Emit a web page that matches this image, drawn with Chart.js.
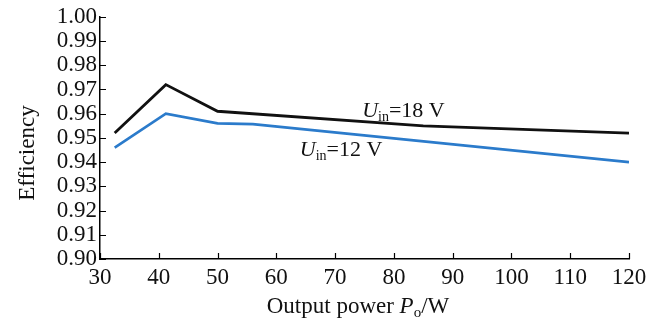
<!DOCTYPE html>
<html>
<head>
<meta charset="utf-8">
<script src="https://cdn.jsdelivr.net/npm/chart.js@4"></script>
<style>
  html, body { margin: 0; padding: 0; background: #fff; }
  #wrap { width: 662px; height: 323px; }
</style>
</head>
<body>
<div id="wrap"><canvas id="chart"></canvas></div>
<script>
// Data
const powerUin18 = [32.5, 41.2, 50, 85, 120];
const effUin18 = [0.952, 0.972, 0.961, 0.955, 0.952];
const powerUin12 = [32.5, 41.2, 50, 56, 120];
const effUin12 = [0.946, 0.960, 0.956, 0.9557, 0.940];

const xTicks = [30, 40, 50, 60, 70, 80, 90, 100, 110, 120];
const yTicks = [0.90, 0.91, 0.92, 0.93, 0.94, 0.95, 0.96, 0.97, 0.98, 0.99, 1.00];

const serif = '"Liberation Serif", "Times New Roman", serif';

// draw a run of text pieces with different fonts / offsets
function drawRich(ctx, x, y, parts, align) {
    let total = 0;
    parts.forEach(p => { ctx.font = p.font; total += ctx.measureText(p.text).width; });
    let cx = align === 'center' ? x - total / 2 : x;
    parts.forEach(p => {
        ctx.font = p.font;
        ctx.fillText(p.text, cx, y + (p.dy || 0));
        cx += ctx.measureText(p.text).width;
    });
}

const extrasPlugin = {
    id: 'extras',
    afterDraw(chart) {
        const ctx = chart.ctx;
        const xs = chart.scales.x, ys = chart.scales.y;
        const area = chart.chartArea;
        ctx.save();
        // inward tick marks
        ctx.strokeStyle = '#000';
        ctx.lineWidth = 1.2;
        ctx.beginPath();
        yTicks.forEach(v => {
            const py = Math.round(ys.getPixelForValue(v)) + 0.5;
            ctx.moveTo(area.left, py);
            ctx.lineTo(area.left + 6, py);
        });
        xTicks.forEach(v => {
            const px = Math.round(xs.getPixelForValue(v)) + 0.5;
            ctx.moveTo(px, area.bottom);
            ctx.lineTo(px, area.bottom - 6);
        });
        ctx.stroke();

        ctx.fillStyle = '#111';
        ctx.textBaseline = 'alphabetic';
        ctx.textAlign = 'left';
        // series labels
        drawRich(ctx, xs.getPixelForValue(74.6), ys.getPixelForValue(0.9585), [
            { text: 'U', font: 'italic 22px ' + serif },
            { text: 'in', font: '14px ' + serif, dy: 4 },
            { text: '=18 V', font: '22px ' + serif }
        ]);
        drawRich(ctx, xs.getPixelForValue(64), ys.getPixelForValue(0.9425), [
            { text: 'U', font: 'italic 22px ' + serif },
            { text: 'in', font: '14px ' + serif, dy: 4 },
            { text: '=12 V', font: '22px ' + serif }
        ]);
        // x axis title
        drawRich(ctx, 358, 313, [
            { text: 'Output power ', font: '23px ' + serif },
            { text: 'P', font: 'italic 23px ' + serif },
            { text: 'o', font: '15px ' + serif, dy: 4 },
            { text: '/W', font: '23px ' + serif }
        ], 'center');
        // y axis title
        ctx.translate(34, 153);
        ctx.rotate(-Math.PI / 2);
        ctx.font = '23px ' + serif;
        ctx.textAlign = 'center';
        ctx.fillText('Efficiency', 0, 0);
        ctx.restore();
    }
};

new Chart(document.getElementById('chart'), {
    type: 'line',
    data: {
        datasets: [
            {
                label: 'Uin=18 V',
                data: powerUin18.map((p, i) => ({ x: p, y: effUin18[i] })),
                borderColor: '#111',
                borderWidth: 2.8,
                pointRadius: 0,
                tension: 0
            },
            {
                label: 'Uin=12 V',
                data: powerUin12.map((p, i) => ({ x: p, y: effUin12[i] })),
                borderColor: '#2b7bcb',
                borderWidth: 2.6,
                pointRadius: 0,
                tension: 0
            }
        ]
    },
    options: {
        responsive: true,
        maintainAspectRatio: false,
        animation: false,
        layout: { padding: { left: 0, right: 33, top: 16, bottom: 0 } },
        plugins: {
            legend: { display: false },
            tooltip: { enabled: false }
        },
        scales: {
            x: {
                type: 'linear',
                min: 30,
                max: 120,
                afterBuildTicks: s => { s.ticks = xTicks.map(v => ({ value: v })); },
                afterFit: s => { s.height = 64; },
                grid: { display: false, drawTicks: false },
                border: { display: true, color: '#000', width: 1.5 },
                ticks: {
                    autoSkip: false,
                    maxRotation: 0,
                    padding: 5,
                    color: '#111',
                    font: { family: serif, size: 23 },
                    callback: v => String(v)
                }
            },
            y: {
                type: 'linear',
                min: 0.90,
                max: 1.00,
                afterBuildTicks: s => { s.ticks = yTicks.map(v => ({ value: v })); },
                afterFit: s => { s.width = 100; },
                grid: { display: false, drawTicks: false },
                border: { display: true, color: '#000', width: 1.5 },
                ticks: {
                    autoSkip: false,
                    padding: 3,
                    color: '#111',
                    font: { family: serif, size: 23 },
                    callback: v => v.toFixed(2)
                }
            }
        }
    },
    plugins: [extrasPlugin]
});
</script>
</body>
</html>
